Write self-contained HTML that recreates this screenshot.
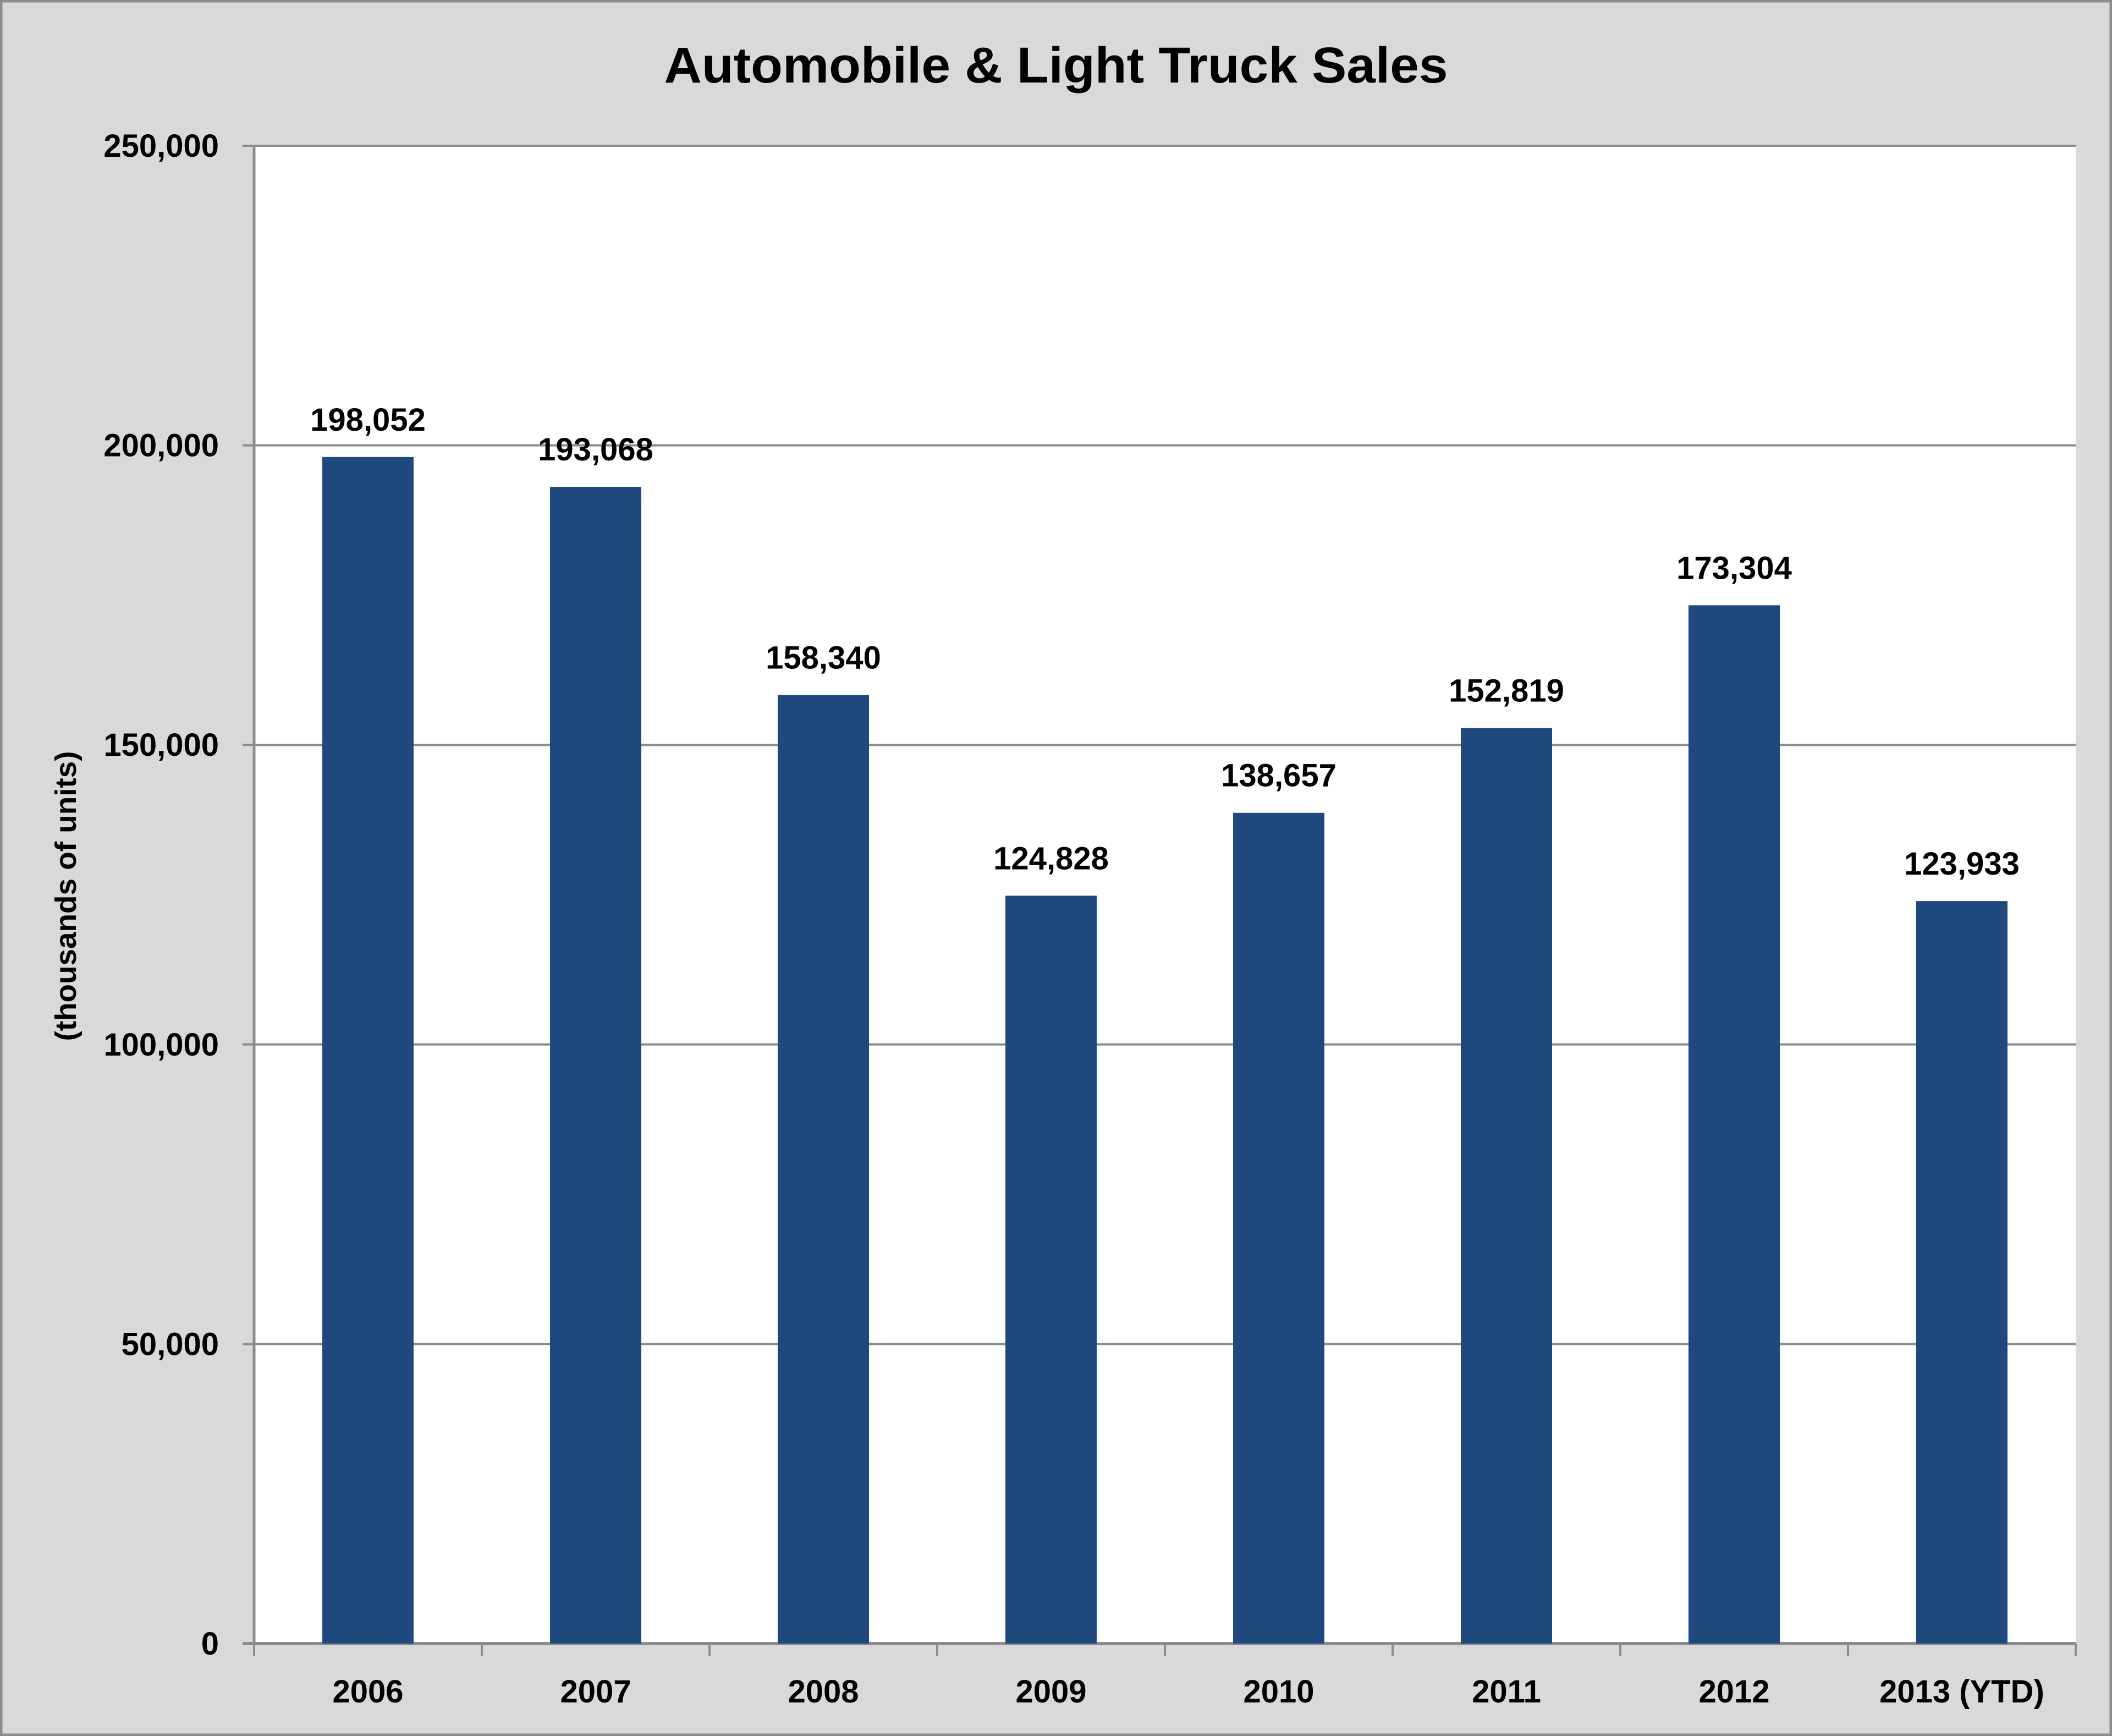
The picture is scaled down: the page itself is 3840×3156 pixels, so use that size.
<!DOCTYPE html>
<html><head><meta charset="utf-8"><style>
html,body{margin:0;padding:0;background:#d9d9d9;}
svg{display:block;font-family:"Liberation Sans",sans-serif;font-weight:bold;}
</style></head><body>
<svg id="chart" width="3840" height="3156" viewBox="0 0 3840 3156" xmlns="http://www.w3.org/2000/svg">
<rect x="2" y="2" width="3836" height="3152" fill="#d9d9d9" stroke="#8c8c8c" stroke-width="5"/>
<rect x="462" y="265" width="3312" height="2723" fill="#ffffff"/>
<text x="1920" y="150" text-anchor="middle" font-size="92" textLength="1425" lengthAdjust="spacingAndGlyphs">Automobile &amp; Light Truck Sales</text>
<text transform="translate(138,1629) rotate(-90)" text-anchor="middle" font-size="54" textLength="527" lengthAdjust="spacingAndGlyphs">(thousands of units)</text>
<g id="grid"></g><g id="bars"></g><g id="labels"></g><g id="axes"></g>
</svg>
<script>
const categories = ["2006","2007","2008","2009","2010","2011","2012","2013 (YTD)"];
const salesValues = [198052,193068,158340,124828,138657,152819,173304,123933];
const yTicks = [0,50000,100000,150000,200000,250000];
const yMax = 250000;

const NS="http://www.w3.org/2000/svg";
const L=462,R=3774,T=265,B=2988;
const bw=(R-L)/categories.length;
function y(v){return B-(v/yMax)*(B-T);}
function x(i){return L+bw*i+bw/2;}
function mk(tag,attrs,parent){const e=document.createElementNS(NS,tag);for(const k in attrs)e.setAttribute(k,attrs[k]);document.getElementById(parent).appendChild(e);return e;}
function fmt(v){return v.toLocaleString('en-US');}

yTicks.forEach(t=>{
  const g=mk('line',{x1:441,x2:R,y1:y(t),y2:y(t),stroke:'#8c8c8c','stroke-width':t===0?6:4},'grid');
  
  
  const tx=mk('text',{x:398,y:y(t)+20,'text-anchor':'end','font-size':58},'labels');
  tx.textContent=fmt(t);
  
  
});
categories.forEach((c,i)=>{
  const v=salesValues[i];
  const r=mk('rect',{x:x(i)-83,y:y(v),width:166,height:B-y(v),fill:'#1f497d'},'bars');
  
  
  const lb=mk('text',{x:x(i),y:y(v)-48,'text-anchor':'middle','font-size':58},'labels');
  lb.textContent=fmt(v);
  
  
  const xl=mk('text',{x:x(i),y:3095,'text-anchor':'middle','font-size':58},'labels');
  xl.textContent=c;
  
  
});
for(let i=0;i<=categories.length;i++){
  const tk=mk('line',{x1:L+bw*i,x2:L+bw*i,y1:B,y2:3010,stroke:'#8c8c8c','stroke-width':4},'axes');
  
  
}
const ya=mk('line',{x1:L,x2:L,y1:T,y2:B,stroke:'#8c8c8c','stroke-width':5},'axes');


</script>
</body></html>
